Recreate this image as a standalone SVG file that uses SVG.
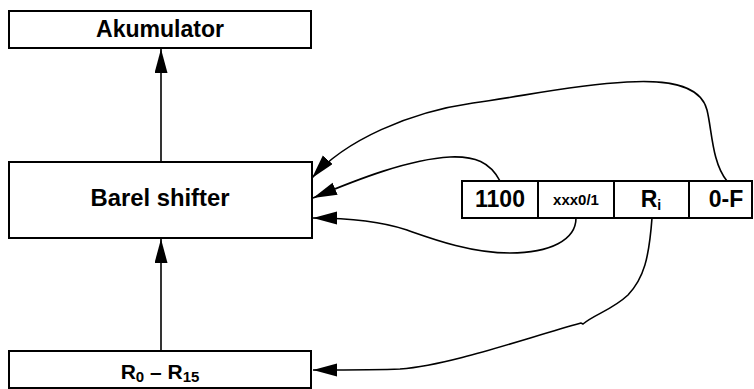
<svg xmlns="http://www.w3.org/2000/svg" width="754" height="389" viewBox="0 0 754 389">
  <style>
    .box { fill: #fff; stroke: #000; stroke-width: 2; }
    .lbl { font-family: "Liberation Sans", Arial, sans-serif; font-weight: bold; fill: #000; text-anchor: middle; }
    .big { font-size: 23px; }
    .mid { font-size: 21px; }
    .small { font-size: 15px; }
    .wire { fill: none; stroke: #000; stroke-width: 1.6; }
  </style>
  <defs>
    <marker id="arrow" markerUnits="userSpaceOnUse" markerWidth="26" markerHeight="14" refX="24" refY="6.5" orient="auto">
      <path d="M0,0 L24,6.5 L0,13 z" fill="#000"/>
    </marker>
  </defs>

  <rect width="754" height="389" fill="#fff"/>

  <!-- connectors -->
  <g id="connectors">
    <path class="wire" d="M161,162 L161,49" marker-end="url(#arrow)"/>
    <path class="wire" d="M161,351 L161,239" marker-end="url(#arrow)"/>
    <!-- 0-F field to shifter -->
    <path class="wire" d="M727,181 C712,163 712,130 707,110 C700,82 660,80 627,82 C570,85 520,97 473,103 C410,112 345,140 312,178" marker-end="url(#arrow)"/>
    <!-- 1100 field to shifter -->
    <path class="wire" d="M500,181 C490,162 475,156 450,157 C410,159 358,179 313,198" marker-end="url(#arrow)"/>
    <!-- xxx0/1 field to shifter -->
    <path class="wire" d="M576,218 C576,240 550,253 510,253 C470,253 430,238 407,230 C380,221 350,218 313,218" marker-end="url(#arrow)"/>
    <!-- Ri field to register file -->
    <path class="wire" d="M652,218 C649,258 644,278 628,295 C612,310 595,314 583,324 L581,323 C520,340 450,365 400,369 C380,370 360,370 313,370" marker-end="url(#arrow)"/>
  </g>

  <g id="akumulator">
    <rect class="box" x="9" y="11" width="302" height="37"/>
    <text class="lbl big" x="160" y="37" textLength="128" lengthAdjust="spacingAndGlyphs">Akumulator</text>
  </g>

  <g id="barel-shifter">
    <rect class="box" x="9" y="162" width="303" height="76"/>
    <text class="lbl big" x="160" y="206" textLength="139" lengthAdjust="spacingAndGlyphs">Barel shifter</text>
  </g>

  <g id="registers">
    <rect class="box" x="9" y="351" width="302" height="37"/>
    <text class="lbl mid" x="160" y="379">R<tspan font-size="15" dy="3">0</tspan><tspan dy="-3"> – R</tspan><tspan font-size="15" dy="3">15</tspan></text>
  </g>

  <g id="instruction">
    <rect class="box" x="462" y="181" width="290" height="37"/>
    <line x1="538" y1="181" x2="538" y2="218" stroke="#000" stroke-width="2"/>
    <line x1="614" y1="181" x2="614" y2="218" stroke="#000" stroke-width="2"/>
    <line x1="689" y1="181" x2="689" y2="218" stroke="#000" stroke-width="2"/>
    <text class="lbl big" x="500" y="207">1100</text>
    <text class="lbl small" x="576" y="205">xxx0/1</text>
    <text class="lbl big" x="651" y="207">R<tspan font-size="14" dy="3">i</tspan></text>
    <text class="lbl big" x="726" y="207">0-F</text>
  </g>
</svg>
